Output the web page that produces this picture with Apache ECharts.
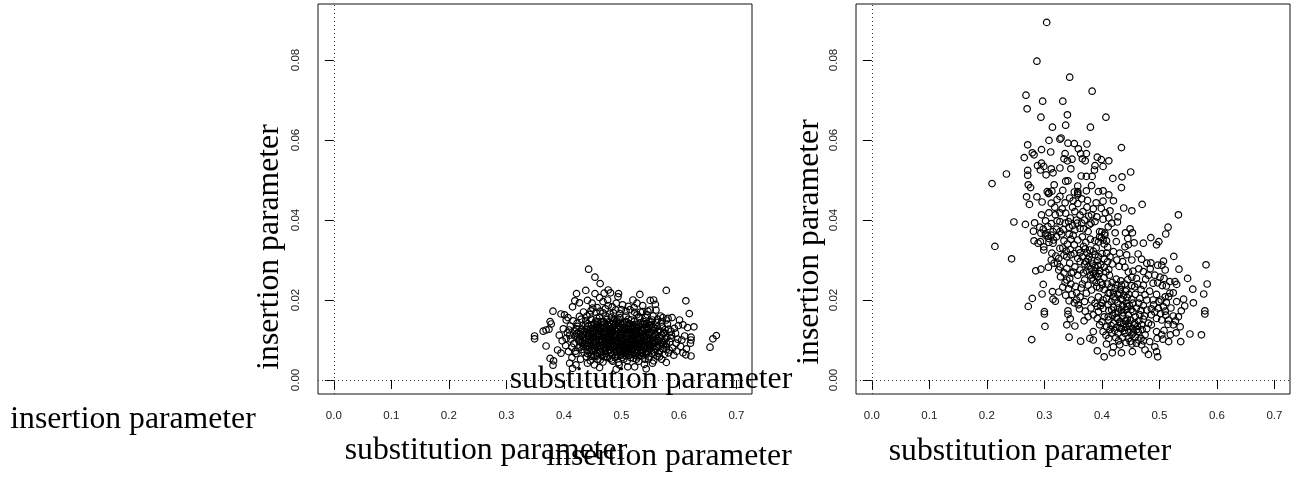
<!DOCTYPE html>
<html>
<head>
<meta charset="utf-8">
<style>
  html, body { margin: 0; padding: 0; background: #fff; }
  #chart { width: 1292px; height: 479px; }
</style>
<script src="https://cdn.jsdelivr.net/npm/echarts@6/dist/echarts.min.js"></script>
</head>
<body>
<div id="chart"></div>
<script>
const xTicks = [0, 0.1, 0.2, 0.3, 0.4, 0.5, 0.6, 0.7]
const yTicks = [0, 0.02, 0.04, 0.06, 0.08]

// [substitution, insertion]
const leftPoints = [
  [.443,.0277],[.454,.0257],[.463,.0241],[.438,.0224],[.422,.0216],[.454,.0216],[.470,.0217],[.477,.0225],[.481,.0218],[.495,.0216],
  [.494,.0208],[.532,.0214],[.578,.0224],[.612,.0198],[.618,.0166],[.626,.0133],[.665,.0111],[.659,.0103],[.654,.0082],[.349,.0110],
  [.349,.0103],[.369,.0085],[.364,.0122],[.369,.0125],[.374,.0127],[.376,.0146],[.378,.0140],[.381,.0172],[.395,.0165],[.401,.0163],
  [.407,.0156],[.404,.0150],[.415,.0183],[.419,.0198],[.427,.0193],[.441,.0199],[.449,.0192],[.462,.0206],[.468,.0196],[.476,.0200],
  [.491,.0192],[.502,.0188],[.520,.0200],[.527,.0192],[.550,.0199],[.556,.0200],[.559,.0189],[.550,.0175],[.560,.0175],[.537,.0171],
  [.572,.0156],[.581,.0154],[.588,.0156],[.601,.0150],[.578,.0150],[.615,.0131],[.607,.0138],[.592,.0129],[.586,.0122],[.598,.0102],
  [.605,.0100],[.621,.0107],[.621,.0100],[.620,.0092],[.595,.0092],[.607,.0068],[.612,.0063],[.621,.0060],[.578,.0044],[.566,.0058],
  [.554,.0042],[.543,.0028],[.540,.0039],[.523,.0033],[.491,.0027],[.462,.0031],[.415,.0029],[.381,.0037],[.376,.0054],[.382,.0048],
  [.389,.0075],[.395,.0067],[.410,.0042],[.421,.0038],[.441,.0042],[.453,.0038],[.496,.0038],[.511,.0033],[.583,.0075],[.586,.0104],
  [.578,.0092],[.392,.0112],[.397,.0098],[.399,.0128],[.403,.0086],[.406,.0118],[.408,.0071],[.411,.0135],[.412,.0102],[.414,.0056],
  [.416,.0148],[.417,.0091],[.419,.0123],[.421,.0066],[.423,.0142],[.424,.0108],[.426,.0081],[.427,.0159],[.429,.0052],[.431,.0127],
  [.432,.0094],[.434,.0170],[.435,.0069],[.437,.0114],[.438,.0148],[.439,.0058],[.441,.0087],[.442,.0134],[.444,.0103],[.445,.0164],
  [.446,.0048],[.448,.0076],[.449,.0122],[.450,.0180],[.451,.0093],[.453,.0141],[.454,.0062],[.455,.0110],[.457,.0155],[.458,.0083],
  [.459,.0052],[.460,.0129],[.461,.0099],[.463,.0172],[.464,.0070],[.465,.0117],[.466,.0146],[.467,.0088],[.468,.0045],[.470,.0106],
  [.471,.0133],[.472,.0078],[.473,.0160],[.474,.0059],[.475,.0096],[.476,.0123],[.477,.0186],[.478,.0084],[.479,.0111],[.480,.0144],
  [.481,.0067],[.482,.0102],[.483,.0050],[.484,.0128],[.485,.0091],[.486,.0168],[.487,.0075],[.488,.0115],[.489,.0138],[.490,.0060],
  [.491,.0098],[.492,.0082],[.493,.0121],[.494,.0152],[.495,.0044],[.496,.0107],[.497,.0072],[.498,.0131],[.499,.0090],[.500,.0176],
  [.501,.0056],[.502,.0113],[.503,.0085],[.504,.0142],[.505,.0100],[.506,.0068],[.507,.0125],[.508,.0160],[.509,.0079],[.510,.0048],
  [.511,.0109],[.512,.0094],[.513,.0135],[.514,.0062],[.515,.0118],[.516,.0086],[.517,.0150],[.518,.0103],[.519,.0073],[.520,.0128],
  [.521,.0054],[.522,.0096],[.523,.0169],[.524,.0112],[.525,.0081],[.526,.0139],[.527,.0066],[.528,.0105],[.529,.0122],[.530,.0047],
  [.531,.0090],[.532,.0155],[.533,.0075],[.534,.0115],[.535,.0060],[.536,.0132],[.537,.0098],[.538,.0084],[.539,.0146],[.540,.0108],
  [.541,.0052],[.542,.0070],[.543,.0124],[.544,.0093],[.545,.0163],[.546,.0079],[.547,.0112],[.548,.0058],[.549,.0137],[.550,.0100],
  [.551,.0087],[.552,.0120],[.553,.0067],[.554,.0150],[.555,.0105],[.556,.0048],[.557,.0092],[.558,.0130],[.559,.0076],[.560,.0114],
  [.561,.0144],[.562,.0059],[.563,.0098],[.564,.0083],[.565,.0125],[.566,.0070],[.567,.0108],[.568,.0160],[.569,.0090],[.570,.0052],
  [.571,.0134],[.572,.0078],[.573,.0116],[.574,.0097],[.575,.0064],[.576,.0126],[.577,.0085],[.579,.0106],[.580,.0140],[.582,.0068],
  [.584,.0095],[.587,.0112],[.589,.0080],[.591,.0062],[.594,.0117],[.596,.0072],[.599,.0136],[.603,.0084],[.610,.0110],[.613,.0078],
  [.470,.0092],[.474,.0108],[.478,.0098],[.482,.0118],[.486,.0086],[.490,.0106],[.494,.0092],[.498,.0112],[.502,.0098],[.506,.0088],
  [.510,.0118],[.514,.0102],[.518,.0090],[.522,.0110],[.526,.0096],[.530,.0106],[.534,.0088],[.538,.0114],[.466,.0102],[.462,.0086],
  [.458,.0112],[.454,.0095],[.450,.0106],[.446,.0120],[.442,.0092],[.438,.0104],[.434,.0084],[.430,.0110],[.426,.0098],[.422,.0116],
  [.480,.0128],[.488,.0126],[.496,.0134],[.504,.0122],[.512,.0128],[.520,.0138],[.528,.0130],[.536,.0122],[.544,.0134],[.472,.0122],
  [.464,.0132],[.456,.0124],[.448,.0138],[.440,.0120],[.480,.0076],[.488,.0070],[.496,.0080],[.504,.0074],[.512,.0068],[.520,.0078],
  [.528,.0072],[.536,.0066],[.544,.0082],[.472,.0066],[.464,.0080],[.456,.0074],[.448,.0064],[.440,.0076],
  // second pass over the black middle of the cloud
  [.517,.0121],[.443,.0118],[.562,.0103],[.486,.0147],[.528,.0083],[.451,.0073],[.503,.0138],[.476,.0056],[.539,.0127],[.468,.0119],
  [.427,.0103],[.512,.0152],[.556,.0124],[.493,.0063],[.437,.0137],[.521,.0107],[.459,.0146],[.548,.0091],[.482,.0087],[.501,.0127],
  [.533,.0143],[.464,.0093],[.422,.0128],[.574,.0119],[.508,.0092],[.447,.0152],[.489,.0111],[.543,.0063],[.471,.0141],[.526,.0124],
  [.455,.0085],[.499,.0104],[.562,.0133],[.483,.0157],[.518,.0064],[.436,.0090],[.552,.0145],[.475,.0079],[.506,.0117],[.441,.0066],
  [.531,.0099],[.493,.0143],[.566,.0087],[.461,.0122],[.514,.0083],[.484,.0062],[.547,.0128],[.429,.0121],[.503,.0067],[.457,.0134],
  [.537,.0075],[.473,.0103],[.522,.0146],[.490,.0122],[.558,.0069],[.445,.0097],[.510,.0137],[.466,.0061],[.541,.0117],[.497,.0156],
  [.479,.0134],[.529,.0058],[.452,.0110],[.570,.0112],[.515,.0097],[.433,.0106],[.486,.0099],[.549,.0078],[.462,.0157],[.524,.0089],
  [.505,.0081],[.439,.0127],[.477,.0112],[.536,.0139],[.494,.0074],[.560,.0095],[.454,.0129],[.519,.0132],[.470,.0073],[.545,.0104],
  [.488,.0151],[.428,.0085],[.511,.0072],[.465,.0108],[.532,.0118],[.500,.0091],[.576,.0103],[.448,.0084],[.527,.0163],[.481,.0124],
  [.553,.0112],[.458,.0067],[.507,.0109],[.492,.0131],[.540,.0096],[.474,.0151],[.516,.0113],[.435,.0120],[.563,.0121],[.498,.0061],
  [.469,.0128],[.525,.0102],[.485,.0080],[.544,.0141],[.451,.0101],[.509,.0146],[.478,.0091],[.534,.0069],[.502,.0120],[.460,.0116],
  [.555,.0083],[.491,.0089],[.520,.0120],[.442,.0110],[.573,.0088],[.467,.0137],[.513,.0076],[.496,.0115],[.538,.0106],[.483,.0108],
  [.419,.0110],[.424,.0134],[.431,.0076],[.447,.0059],[.463,.0050],[.485,.0047],[.504,.0052],[.526,.0052],[.547,.0053],[.564,.0066],
  [.578,.0076],[.582,.0127],[.570,.0145],[.555,.0160],[.533,.0170],[.515,.0176],[.490,.0175],[.468,.0168],[.447,.0173],[.430,.0152],
  [.410,.0112],[.414,.0082],[.420,.0072],[.404,.0104],[.409,.0125],[.537,.0186],[.512,.0184],[.484,.0183],[.458,.0181],[.542,.0156],
  [.472,.0178],[.497,.0166],[.522,.0181],[.546,.0172],[.440,.0160],[.456,.0169],[.480,.0165],[.508,.0172],[.530,.0158],[.563,.0152],
  // third pass, the core reads as solid black
  [.447,.0128],[.452,.0119],[.458,.0138],[.463,.0127],[.449,.0108],[.456,.0102],[.461,.0110],[.467,.0097],[.473,.0115],[.477,.0104],
  [.479,.0122],[.484,.0116],[.487,.0136],[.491,.0114],[.495,.0126],[.499,.0119],[.503,.0105],[.505,.0130],[.509,.0101],[.513,.0115],
  [.516,.0128],[.519,.0099],[.523,.0122],[.527,.0115],[.529,.0092],[.533,.0108],[.535,.0125],[.539,.0091],[.543,.0101],[.546,.0118],
  [.449,.0087],[.453,.0079],[.457,.0093],[.462,.0075],[.465,.0085],[.469,.0081],[.473,.0088],[.476,.0071],[.480,.0095],[.484,.0083],
  [.488,.0094],[.491,.0077],[.495,.0086],[.498,.0070],[.501,.0082],[.504,.0093],[.507,.0077],[.510,.0086],[.513,.0090],[.517,.0079],
  [.521,.0085],[.524,.0073],[.527,.0090],[.531,.0081],[.534,.0095],[.537,.0070],[.541,.0084],[.545,.0072],[.549,.0086],[.552,.0074],
  [.437,.0098],[.440,.0084],[.444,.0112],[.433,.0114],[.429,.0094],[.425,.0118],[.441,.0141],[.451,.0130],[.455,.0147],[.469,.0146],
  [.475,.0139],[.483,.0139],[.492,.0148],[.498,.0141],[.506,.0145],[.514,.0141],[.523,.0133],[.531,.0135],[.540,.0139],[.548,.0146],
  [.557,.0100],[.554,.0093],[.559,.0110],[.561,.0085],[.565,.0097],[.568,.0120],[.571,.0094],[.549,.0119],[.555,.0132],[.552,.0137],
  [.452,.0058],[.458,.0060],[.470,.0058],[.480,.0054],[.489,.0056],[.500,.0063],[.508,.0060],[.516,.0056],[.523,.0062],[.532,.0061]
]

// [substitution, insertion]
const rightPoints = [
  [.304,.0894],[.287,.0797],[.344,.0757],[.383,.0722],[.268,.0712],[.297,.0697],[.332,.0697],[.270,.0678],[.294,.0657],[.340,.0663],
  [.407,.0657],[.314,.0632],[.337,.0637],[.380,.0632],[.308,.0599],[.327,.0602],[.329,.0605],[.341,.0592],[.352,.0591],[.374,.0590],
  [.271,.0588],[.434,.0581],[.295,.0576],[.311,.0570],[.279,.0568],[.282,.0563],[.336,.0566],[.359,.0578],[.363,.0566],[.373,.0566],
  [.265,.0556],[.334,.0553],[.348,.0552],[.340,.0548],[.366,.0553],[.371,.0548],[.392,.0557],[.399,.0551],[.412,.0548],[.295,.0542],
  [.288,.0536],[.299,.0534],[.388,.0536],[.402,.0534],[.293,.0525],[.271,.0524],[.312,.0528],[.327,.0530],[.346,.0528],[.387,.0525],
  [.315,.0518],[.303,.0513],[.271,.0512],[.234,.0515],[.450,.0520],[.435,.0508],[.419,.0504],[.364,.0510],[.373,.0509],[.383,.0509],
  [.209,.0491],[.337,.0497],[.341,.0498],[.272,.0488],[.276,.0481],[.317,.0488],[.358,.0485],[.382,.0486],[.434,.0481],[.305,.0471],
  [.308,.0468],[.313,.0472],[.358,.0471],[.373,.0473],[.394,.0471],[.402,.0473],[.412,.0463],[.269,.0458],[.287,.0458],[.327,.0459],
  [.358,.0463],[.307,.0466],[.358,.0467],[.274,.0439],[.296,.0445],[.312,.0442],[.336,.0443],[.350,.0448],[.365,.0453],[.375,.0449],
  [.390,.0443],[.402,.0447],[.420,.0448],[.414,.0423],[.399,.0429],[.438,.0430],[.452,.0423],[.470,.0439],[.533,.0413],[.295,.0413],
  [.247,.0395],[.267,.0389],[.319,.0413],[.327,.0418],[.337,.0417],[.353,.0421],[.367,.0421],[.382,.0413],[.428,.0408],[.427,.0395],
  [.402,.0402],[.417,.0392],[.327,.0396],[.336,.0392],[.356,.0400],[.370,.0400],[.388,.0396],[.292,.0382],[.298,.0377],[.294,.0367],
  [.315,.0371],[.321,.0377],[.327,.0371],[.312,.0362],[.321,.0358],[.330,.0365],[.353,.0375],[.362,.0379],[.376,.0371],[.411,.0383],
  [.396,.0371],[.405,.0367],[.423,.0368],[.449,.0378],[.453,.0368],[.441,.0368],[.445,.0354],[.515,.0382],[.511,.0365],[.485,.0356],
  [.499,.0346],[.495,.0338],[.472,.0342],[.456,.0343],[.425,.0346],[.440,.0333],[.446,.0338],[.282,.0348],[.289,.0342],[.293,.0346],
  [.299,.0333],[.299,.0325],[.307,.0354],[.315,.0342],[.214,.0334],[.243,.0303],[.313,.0317],[.327,.0329],[.325,.0304],[.323,.0292],
  [.327,.0283],[.317,.0292],[.325,.0275],[.339,.0308],[.346,.0313],[.362,.0296],[.353,.0283],[.339,.0279],[.347,.0267],[.362,.0275],
  [.379,.0325],[.388,.0313],[.382,.0300],[.394,.0308],[.408,.0317],[.420,.0321],[.431,.0317],[.443,.0313],[.452,.0300],[.463,.0315],
  [.469,.0302],[.478,.0292],[.485,.0293],[.497,.0287],[.504,.0287],[.507,.0297],[.525,.0309],[.510,.0275],[.534,.0277],[.581,.0288],
  [.285,.0273],[.294,.0277],[.298,.0239],[.296,.0215],[.314,.0221],[.325,.0220],[.332,.0232],[.315,.0202],[.319,.0197],[.279,.0204],
  [.272,.0184],[.300,.0171],[.300,.0165],[.301,.0134],[.278,.0101],[.343,.0107],[.363,.0097],[.339,.0138],[.353,.0135],[.345,.0153],
  [.341,.0173],[.341,.0164],[.343,.0198],[.356,.0200],[.359,.0188],[.369,.0148],[.376,.0158],[.339,.0250],[.344,.0254],[.370,.0250],
  [.376,.0237],[.385,.0250],[.391,.0233],[.382,.0225],[.373,.0217],[.362,.0208],[.370,.0196],[.382,.0200],[.394,.0208],[.402,.0200],
  [.411,.0217],[.423,.0229],[.434,.0237],[.443,.0225],[.452,.0257],[.460,.0254],[.472,.0271],[.481,.0262],[.492,.0262],[.501,.0257],
  [.508,.0254],[.489,.0242],[.472,.0237],[.457,.0233],[.512,.0235],[.518,.0246],[.527,.0246],[.530,.0239],[.549,.0254],[.558,.0227],
  [.583,.0240],[.577,.0215],[.559,.0193],[.542,.0202],[.544,.0185],[.530,.0196],[.518,.0217],[.516,.0208],[.524,.0218],[.579,.0173],
  [.579,.0165],[.538,.0173],[.553,.0115],[.573,.0113],[.537,.0096],[.529,.0118],[.536,.0133],[.533,.0158],[.524,.0160],[.515,.0139],
  [.524,.0138],[.519,.0113],[.516,.0096],[.504,.0113],[.495,.0121],[.486,.0138],[.498,.0179],[.507,.0183],[.499,.0196],[.489,.0200],
  [.478,.0200],[.466,.0204],[.454,.0192],[.443,.0192],[.431,.0217],[.423,.0200],[.411,.0188],[.402,.0179],[.394,.0171],[.385,.0163],
  [.411,.0158],[.423,.0167],[.434,.0175],[.446,.0163],[.454,.0171],[.466,.0163],[.478,.0175],[.486,.0163],[.495,.0154],[.481,.0142],
  [.469,.0138],[.457,.0142],[.446,.0142],[.431,.0146],[.420,.0142],[.408,.0133],[.396,.0138],[.385,.0121],[.402,.0121],[.417,.0117],
  [.428,.0117],[.440,.0117],[.452,.0113],[.463,.0121],[.475,.0113],[.483,.0096],[.475,.0075],[.492,.0083],[.495,.0071],[.497,.0058],
  [.481,.0064],[.453,.0071],[.434,.0068],[.418,.0068],[.404,.0058],[.392,.0073],[.408,.0090],[.420,.0083],[.431,.0088],[.449,.0096],
  [.460,.0092],[.379,.0104],[.385,.0100],[.469,.0088],
  // dark clumps in the middle of the cloud
  [.385,.0322],[.390,.0330],[.378,.0308],[.392,.0298],[.400,.0316],[.404,.0303],[.410,.0296],[.398,.0288],[.388,.0282],[.396,.0274],
  [.404,.0282],[.412,.0276],[.418,.0290],[.426,.0300],[.414,.0308],[.430,.0284],[.436,.0296],[.440,.0282],[.386,.0266],[.392,.0258],
  [.380,.0262],[.398,.0244],[.404,.0256],[.390,.0244],[.410,.0240],[.396,.0230],[.404,.0226],[.416,.0232],[.420,.0218],[.428,.0214],
  [.432,.0226],[.438,.0212],[.444,.0206],[.436,.0200],[.428,.0192],[.420,.0182],[.412,.0174],[.418,.0162],[.428,.0180],[.436,.0186],
  [.442,.0176],[.448,.0186],[.452,.0202],[.458,.0214],[.464,.0192],[.460,.0180],[.468,.0174],[.472,.0186],[.444,.0152],[.436,.0160],
  [.428,.0152],[.438,.0140],[.450,.0150],[.458,.0158],[.464,.0148],[.472,.0152],[.412,.0150],[.404,.0158],[.400,.0146],[.392,.0154],
  [.426,.0132],[.434,.0128],[.442,.0132],[.454,.0128],[.462,.0134],[.470,.0126],[.478,.0128],[.414,.0126],[.424,.0106],[.436,.0106],
  [.446,.0104],[.458,.0108],[.468,.0104],[.412,.0104],[.350,.0362],[.358,.0350],[.366,.0358],[.372,.0344],[.380,.0352],[.388,.0348],
  [.396,.0358],[.402,.0350],[.404,.0340],[.410,.0332],[.352,.0338],[.360,.0326],[.368,.0334],[.374,.0318],[.346,.0352],[.340,.0340],
  [.334,.0348],[.332,.0330],[.338,.0322],[.352,.0316],[.358,.0304],[.366,.0308],[.370,.0290],[.376,.0284],[.344,.0292],[.350,.0270],
  [.358,.0262],[.368,.0268],[.374,.0272],[.334,.0268],[.328,.0258],[.336,.0244],[.346,.0240],[.354,.0234],[.364,.0230],[.342,.0228],
  // second pass over the darkest clumps
  [.399,.0356],[.405,.0362],[.394,.0345],[.408,.0348],[.400,.0370],[.376,.0302],[.384,.0290],[.372,.0296],[.388,.0272],[.381,.0278],
  [.393,.0286],[.383,.0255],[.395,.0266],[.401,.0238],[.389,.0262],[.407,.0270],[.413,.0262],[.425,.0252],[.418,.0244],[.433,.0248],
  [.440,.0240],[.445,.0251],[.426,.0238],[.414,.0218],[.421,.0208],[.433,.0203],[.441,.0222],[.447,.0214],[.429,.0170],[.437,.0168],
  [.444,.0184],[.451,.0176],[.425,.0156],[.433,.0142],[.441,.0148],[.449,.0134],[.456,.0138],[.416,.0136],[.422,.0124],[.431,.0130],
  [.439,.0124],[.447,.0122],[.455,.0118],[.461,.0126],[.407,.0112],[.429,.0098],[.442,.0094],[.452,.0090],[.464,.0100],[.472,.0098],
  [.362,.0318],[.371,.0328],[.343,.0364],[.333,.0376],[.357,.0392],[.343,.0382],[.316,.0350],[.308,.0344],[.302,.0362],[.368,.0378],
  [.378,.0388],[.362,.0412],[.345,.0405],[.302,.0366],[.306,.0360],[.400,.0192],[.408,.0204],[.416,.0196],[.398,.0186],[.417,.0175],
  [.474,.0160],[.486,.0178],[.492,.0170],[.490,.0188],[.502,.0166],[.510,.0172],[.475,.0213],[.468,.0226],[.483,.0222],[.495,.0214],
  // spread through the upper part of the cloud
  [.349,.0432],[.358,.0441],[.344,.0455],[.352,.0470],[.332,.0474],[.322,.0451],[.318,.0432],[.331,.0428],[.308,.0418],[.302,.0398],
  [.342,.0396],[.349,.0386],[.365,.0392],[.377,.0410],[.385,.0428],[.374,.0432],[.391,.0408],[.381,.0392],[.406,.0418],[.412,.0405],
  [.322,.0398],[.312,.0391],[.306,.0384],[.283,.0393],[.281,.0372],[.334,.0312],[.345,.0326],[.320,.0310],[.312,.0300],[.307,.0282],
  [.366,.0240],[.356,.0218],[.348,.0214],[.337,.0212],[.352,.0193],[.361,.0178],[.371,.0172],[.381,.0180],[.388,.0192],[.392,.0184],
  [.464,.0278],[.454,.0272],[.446,.0270],[.462,.0240],[.452,.0236],[.484,.0278],[.476,.0252],[.497,.0243],[.505,.0236],[.510,.0208],
  [.503,.0200],[.512,.0194],[.520,.0180],[.511,.0162],[.504,.0150],[.516,.0150],[.528,.0148],[.508,.0124],[.496,.0104],[.506,.0102]
]

function panelSeries(points, gridIndex) {
  return {
    type: 'scatter',
    xAxisIndex: gridIndex,
    yAxisIndex: gridIndex,
    data: points,
    symbol: 'circle',
    symbolSize: 6.5,
    silent: true,
    itemStyle: { color: 'rgba(0,0,0,0)', borderColor: '#000', borderWidth: 1.2, opacity: 1 },
    markLine: {
      silent: true,
      symbol: 'none',
      animation: false,
      label: { show: false },
      lineStyle: { color: '#333', type: [1, 3], width: 1 },
      data: [{ xAxis: 0 }, { yAxis: 0 }]
    }
  }
}

function xAxisFor(gridIndex) {
  return {
    type: 'value', gridIndex: gridIndex, min: -0.0275, max: 0.727,
    splitLine: { show: false },
    axisLine: { show: false },
    axisTick: { show: true, length: 9, customValues: xTicks, lineStyle: { color: '#000' } },
    axisLabel: {
      customValues: xTicks, margin: 16, color: '#222', fontSize: 11.5,
      fontFamily: 'Liberation Sans', formatter: v => v.toFixed(1)
    }
  }
}

function yAxisFor(gridIndex) {
  return {
    type: 'value', gridIndex: gridIndex, min: -0.0035, max: 0.094,
    splitLine: { show: false },
    axisLine: { show: false },
    axisTick: { show: true, length: 9, customValues: yTicks, lineStyle: { color: '#000' } },
    axisLabel: {
      customValues: yTicks, margin: 16, rotate: 90, color: '#222', fontSize: 11.5,
      fontFamily: 'Liberation Sans', formatter: v => v.toFixed(2)
    }
  }
}

function label(text, x, y, rotated) {
  return {
    type: 'text', x: x, y: y, rotation: rotated ? Math.PI / 2 : 0, silent: true,
    style: {
      text: text, fill: '#000', font: '31.7px "Liberation Serif"',
      textAlign: 'center', textVerticalAlign: 'middle'
    }
  }
}

const chart = echarts.init(document.getElementById('chart'), null, { renderer: 'canvas' })
chart.setOption({
  animation: false,
  backgroundColor: '#fff',
  grid: [
    { left: 318, top: 4, width: 434, height: 390, show: true, borderColor: '#111', borderWidth: 1, backgroundColor: 'transparent' },
    { left: 856, top: 4, width: 434, height: 390, show: true, borderColor: '#111', borderWidth: 1, backgroundColor: 'transparent' }
  ],
  xAxis: [xAxisFor(0), xAxisFor(1)],
  yAxis: [yAxisFor(0), yAxisFor(1)],
  series: [panelSeries(leftPoints, 0), panelSeries(rightPoints, 1)],
  graphic: [
    label('insertion parameter', 133, 420),
    label('insertion parameter', 270, 247, true),
    label('substitution parameter', 486, 451),
    label('insertion parameter', 669, 457),
    label('substitution parameter', 651, 380),
    label('insertion parameter', 810, 242, true),
    label('substitution parameter', 1030, 452)
  ]
})
</script>
</body>
</html>
